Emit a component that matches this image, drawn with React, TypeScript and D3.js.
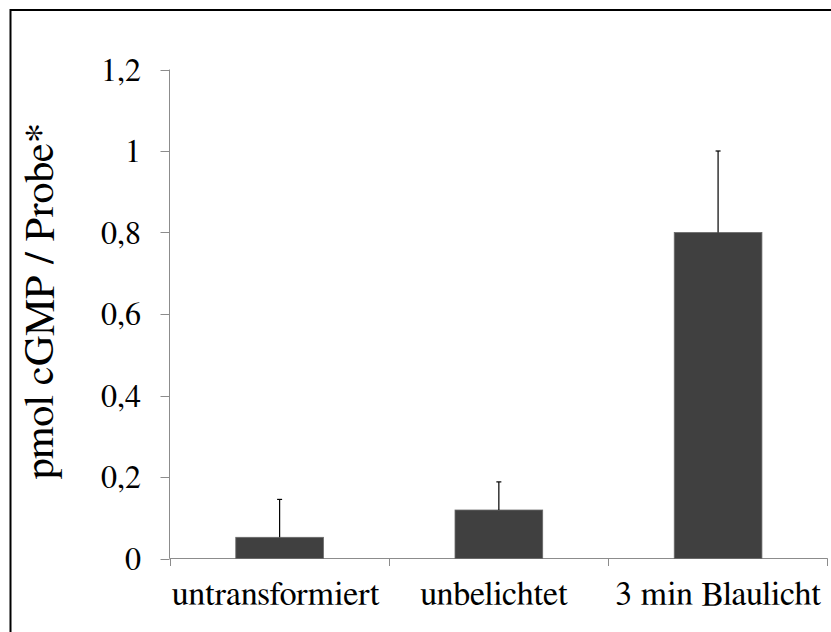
import React from "react";
import * as d3 from "d3";

const categories = ["untransformiert", "unbelichtet", "3 min Blaulicht"];
const values = [0.052, 0.119, 0.8];
const errors = [0.093, 0.069, 0.2];
const yTicks = [0, 0.2, 0.4, 0.6, 0.8, 1.0, 1.2];
const yTitle = "pmol cGMP / Probe*";

export default function App() {
  const W = 831;
  const H = 632;
  const y = d3.scaleLinear().domain([0, 1.2]).range([558.5, 69.5]);
  const x = d3.scaleBand<string>().domain(categories).range([170, 827.7]).padding(0);
  const bw = x.bandwidth() * 0.4;
  const fmt = (v: number) => d3.format("~g")(+v.toFixed(1)).replace(".", ",");
  const axisColor = "#8c8c8c";
  const serif = { fontFamily: "'Nimbus Roman', 'FreeSerif', 'DejaVu Serif'" };

  return (
    <svg width={W} height={H} style={{ position: "absolute", left: 0, top: 0, background: "#fff" }}>
      <rect x={10.5} y={10} width={840} height={640} fill="none" stroke="#000" strokeWidth={2} />
      <line x1={169.5} x2={169.5} y1={y(1.2)} y2={y(0)} stroke={axisColor} strokeWidth={1} />
      {yTicks.map((t) => (
        <g key={t}>
          <line x1={160.5} x2={169.5} y1={Math.round(y(t)) + 0.5} y2={Math.round(y(t)) + 0.5} stroke={axisColor} strokeWidth={1} />
          <text x={141} y={y(t)} dy="0.35em" textAnchor="end" fontSize={32} fill="#000" style={serif}>
            {fmt(t)}
          </text>
        </g>
      ))}
      <line x1={169.5} x2={827.7} y1={558.5} y2={558.5} stroke={axisColor} strokeWidth={1} />
      {[...categories.map((c) => x(c) as number), 827.2].map((px, i) => (
        <line key={i} x1={Math.round(px) + 0.5} x2={Math.round(px) + 0.5} y1={558.5} y2={566} stroke={axisColor} strokeWidth={1} />
      ))}
      {categories.map((c, i) => {
        const cx = (x(c) as number) + x.bandwidth() / 2;
        return (
          <g key={c}>
            <rect x={cx - bw / 2} y={y(values[i])} width={bw} height={y(0) - y(values[i])} fill="#404040" stroke="#6a6a6a" strokeWidth={0.8} />
            <line x1={cx} x2={cx} y1={y(values[i])} y2={y(values[i] + errors[i])} stroke="#000" strokeWidth={1.2} />
            <line x1={cx - 2.5} x2={cx + 2.5} y1={y(values[i] + errors[i])} y2={y(values[i] + errors[i])} stroke="#000" strokeWidth={1.2} />
            <text x={i === 0 ? cx - 4 : i === 1 ? cx - 5 : cx} y={605} textAnchor="middle" fontSize={34} fill="#000" style={serif}>
              {c}
            </text>
          </g>
        );
      })}
      <text transform={`translate(53, 301) rotate(-90)`} textAnchor="middle" fontSize={42} fill="#000" style={serif}>
        {yTitle}
      </text>
    </svg>
  );
}
